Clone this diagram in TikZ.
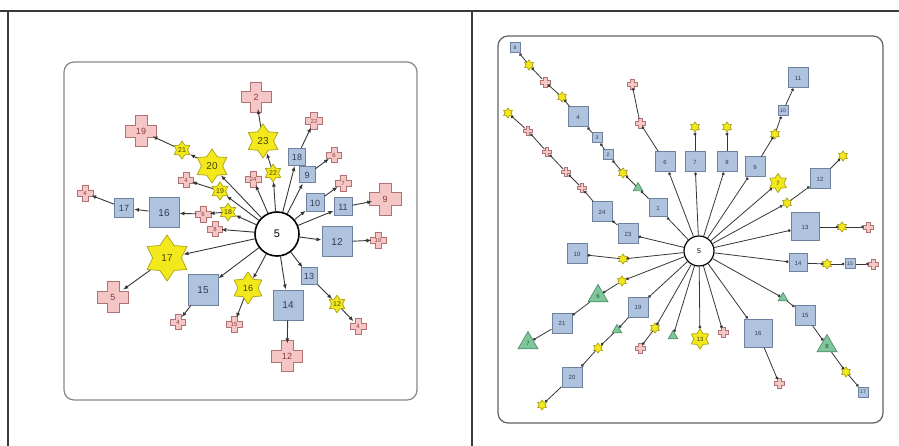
\documentclass[tikz,border=0pt]{standalone}
\usepackage{fontspec}
\setmainfont{Liberation Sans}
\usetikzlibrary{shapes.geometric,arrows.meta}
\definecolor{bluefill}{HTML}{AFC3DF}
\definecolor{bluedraw}{HTML}{6E819F}
\definecolor{bluetext}{HTML}{2E3B55}
\definecolor{pinkfill}{HTML}{F5C6C6}
\definecolor{pinkdraw}{HTML}{B07272}
\definecolor{pinktext}{HTML}{8A3A3A}
\definecolor{yfill}{HTML}{F2E81C}
\definecolor{ydraw}{HTML}{ACA016}
\definecolor{ytext}{HTML}{4A4500}
\definecolor{gfill}{HTML}{7FC79B}
\definecolor{gdraw}{HTML}{4F8F69}
\definecolor{gtext}{HTML}{1F4F33}
\definecolor{edgecol}{HTML}{363636}
\definecolor{framecol}{HTML}{3A3A3A}
\definecolor{panelcol}{HTML}{8A8585}
\tikzset{
  fsz/.style={font=\fontsize{#1}{#1}\selectfont},
  bx/.style={rectangle, draw=bluedraw, fill=bluefill, line width=1pt, minimum size=#1, inner sep=0pt, text=bluetext},
  st/.style={star, star points=6, star point ratio=1.6, draw=ydraw, fill=yfill, line width=0.7pt, minimum size=#1, inner sep=0pt, text=ytext},
  tri/.style={regular polygon, regular polygon sides=3, draw=gdraw, fill=gfill, line width=0.7pt, minimum size=#1, inner sep=0pt, text=gtext},
  plusshape/.style={draw=pinkdraw, fill=pinkfill, line width=0.7pt},
  plusholder/.style={circle, minimum size=0.8*#1, inner sep=0pt, text=pinktext},
  le/.style={draw=edgecol, line width=0.9pt, -{Latex[length=5pt,width=4pt]}},
  re/.style={draw=edgecol, line width=0.8pt, -{Circle[length=2.8pt]}},
  hub/.style={circle, draw=black, fill=white, inner sep=0pt},
}
\newcommand{\plusmark}[5]{%
  \draw[plusshape, shift={#2}, scale=#3/5.2]
    (-1,-2.6) -- (1,-2.6) -- (1,-1) -- (2.6,-1) -- (2.6,1) -- (1,1) -- (1,2.6)
    -- (-1,2.6) -- (-1,1) -- (-2.6,1) -- (-2.6,-1) -- (-1,-1) -- cycle;
  \node[plusholder=#3, fsz=#5] (#1) at #2 {#4};
}
\begin{document}
\begin{tikzpicture}[x=1pt,y=-1pt]
\useasboundingbox (0,0) rectangle (899,446);
% frame
\draw[framecol, line width=2.5pt] (0,11) -- (899,11);
\draw[framecol, line width=2pt] (8,11) -- (8,446);
\draw[framecol, line width=2pt] (472,11) -- (472,446);
% panels
\draw[panelcol, line width=1.2pt, rounded corners=10pt] (64,62) rectangle (417,400);
\draw[framecol!80, line width=1.2pt, rounded corners=10pt] (498,36) rectangle (883,423);

% ---------------- left panel ----------------
\node[hub, line width=1.6pt, minimum size=44, fsz=11] (Lc) at (277,234) {5};
\node[st=34, fsz=10] (L23) at (263,141) {23};
\plusmark{L2}{(256,97)}{30}{2}{9}
\node[st=17, fsz=7] (L22y) at (273,173) {22};
\plusmark{L24}{(253,179)}{16}{24}{6}
\node[bx=17, fsz=9] (L18) at (297,157) {18};
\plusmark{L22p}{(314,121)}{17}{22}{6}
\node[bx=16, fsz=9] (L9) at (307,175) {9};
\plusmark{L6p}{(334,155)}{15}{6}{6}
\node[bx=18, fsz=9] (L10) at (315,203) {10};
\plusmark{L7p}{(343,183)}{16}{7}{6}
\node[bx=18, fsz=9] (L11) at (343,207) {11};
\plusmark{L9p}{(385,199)}{32}{9}{9}
\node[bx=30, fsz=10] (L12) at (337,242) {12};
\plusmark{L10p}{(378,240)}{16}{10}{6}
\node[bx=16, fsz=9] (L13) at (309,276) {13};
\node[st=17, fsz=7] (L12y) at (337,304) {12};
\plusmark{L4a}{(358,326)}{16}{4}{6}
\node[bx=30, fsz=10] (L14) at (288,305) {14};
\plusmark{L12p}{(287,356)}{31}{12}{9}
\node[st=32, fsz=9] (L16y) at (248,288) {16};
\plusmark{L15p}{(234,324)}{16}{15}{6}
\node[bx=30, fsz=10] (L15) at (203,290) {15};
\plusmark{L4b}{(178,322)}{15}{4}{6}
\node[st=46, fsz=10] (L17y) at (167,258) {17};
\plusmark{L5p}{(113,297)}{31}{5}{9}
\node[bx=30, fsz=10] (L16) at (164,213) {16};
\node[bx=19, fsz=9] (L17) at (124,208) {17};
\plusmark{L4c}{(85,193)}{16}{4}{6}
\plusmark{L6b}{(203,214)}{16}{6}{6}
\node[st=17, fsz=7] (L18y) at (228,212) {18};
\plusmark{L8p}{(215,229)}{15}{8}{6}
\node[st=18, fsz=7] (L19y) at (220,191) {19};
\plusmark{L4d}{(186,180)}{15}{4}{6}
\node[st=34, fsz=10] (L20y) at (212,166) {20};
\node[st=18, fsz=7] (L21y) at (182,150) {21};
\plusmark{L19p}{(141,131)}{31}{19}{9}

\foreach \a/\b in {Lc/L22y, L22y/L23, L23/L2, Lc/L24, Lc/L18, L18/L22p, Lc/L9, L9/L6p,
  Lc/L10, L10/L7p, Lc/L11, L11/L9p, Lc/L12, L12/L10p, Lc/L13, L13/L12y, L12y/L4a,
  Lc/L14, L14/L12p, Lc/L16y, L16y/L15p, Lc/L15, L15/L4b, Lc/L17y, L17y/L5p, Lc/L8p,
  Lc/L18y, L18y/L6b, L6b/L16, L16/L17, L17/L4c, Lc/L19y, L19y/L4d, Lc/L20y,
  L20y/L21y, L21y/L19p}
  \draw[le] (\a) -- (\b);

% ---------------- right panel ----------------
\node[hub, line width=1.2pt, minimum size=30, fsz=7] (Rc) at (699,251) {5};
% chain to upper left
\node[bx=18, fsz=6] (R1) at (658,208) {1};
\node[tri=11] (RgA) at (638,188) {};
\node[st=10] (RyA) at (623,173) {};
\node[bx=10, fsz=5] (R2) at (608,155) {2};
\node[bx=10, fsz=5] (R3) at (597,138) {3};
\node[bx=20, fsz=6] (R4) at (578,117) {4};
\node[st=10] (RyB) at (562,97) {};
\plusmark{RpA}{(545,82)}{10}{}{5}
\node[st=10] (RyC) at (529,65) {};
\node[bx=10, fsz=5] (R8s) at (515,48) {8};
% chain via 23, 24
\node[bx=20, fsz=6] (R23) at (628,234) {23};
\node[bx=20, fsz=6] (R24) at (602,212) {24};
\plusmark{RpB}{(582,188)}{9}{}{5}
\plusmark{RpC}{(566,172)}{9}{}{5}
\plusmark{RpD}{(547,152)}{9}{}{5}
\plusmark{RpE}{(528,131)}{9}{}{5}
\node[st=10] (RyD) at (508,113) {};
% 6
\node[bx=20, fsz=6] (R6) at (665,162) {6};
\plusmark{RpF}{(640,123)}{10}{}{5}
\plusmark{RpG}{(632,84)}{10}{}{5}
% 7, 8
\node[bx=20, fsz=6] (R7) at (695,162) {7};
\node[st=10] (RyE) at (695,127) {};
\node[bx=20, fsz=6] (R8) at (727,162) {8};
\node[st=10] (RyF) at (727,127) {};
% 9 chain
\node[bx=20, fsz=6] (R9) at (755,167) {9};
\node[st=10] (RyG) at (775,134) {};
\node[bx=10, fsz=5] (R10s) at (783,111) {10};
\node[bx=20, fsz=6] (R11) at (798,78) {11};
% star 7
\node[st=19, fsz=6] (R7y) at (778,183) {7};
% 12
\node[st=10] (RyH) at (787,203) {};
\node[bx=20, fsz=6] (R12) at (820,179) {12};
\node[st=10] (RyI) at (843,156) {};
% 13
\node[bx=28, fsz=6] (R13) at (805,227) {13};
\node[st=10] (RyJ) at (842,227) {};
\plusmark{RpH}{(868,227)}{10}{}{5}
% 14
\node[bx=18, fsz=6] (R14) at (798,263) {14};
\node[st=10] (RyK) at (827,264) {};
\node[bx=10, fsz=5] (R15s) at (850,264) {15};
\plusmark{RpI}{(873,264)}{10}{}{5}
% 15 chain
\node[tri=11] (RgB) at (783,298) {};
\node[bx=20, fsz=6] (R15) at (805,315) {15};
\node[tri=23, fsz=6] (R8t) at (827,346) {8};
\node[st=10] (RyL) at (846,372) {};
\node[bx=10, fsz=5] (R17) at (863,392) {17};
% 16
\node[bx=28, fsz=6] (R16) at (758,333) {16};
\plusmark{RpJ}{(779,383)}{10}{}{5}
% singles
\plusmark{RpK}{(723,332)}{10}{}{5}
\node[st=20, fsz=6] (R13y) at (700,339) {13};
\node[tri=11] (RgC) at (673,336) {};
\node[st=10] (RyM) at (655,328) {};
\plusmark{RpL}{(640,348)}{10}{}{5}
% 19 chain
\node[bx=20, fsz=6] (R19) at (638,307) {19};
\node[tri=11] (RgD) at (617,330) {};
\node[st=10] (RyN) at (598,348) {};
\node[bx=20, fsz=6] (R20) at (572,377) {20};
\node[st=10] (RyO) at (542,405) {};
% 6 triangle chain
\node[st=10] (RyP) at (622,281) {};
\node[tri=23, fsz=6] (R6t) at (598,296) {6};
\node[bx=20, fsz=6] (R21) at (562,323) {21};
\node[tri=23, fsz=6] (R7t) at (528,343) {7};
% 10
\node[st=10] (RyQ) at (623,259) {};
\node[bx=20, fsz=6] (R10) at (577,254) {10};

\foreach \a/\b in {Rc/R1, R1/RgA, RgA/RyA, RyA/R2, R2/R3, R3/R4, R4/RyB, RyB/RpA, RpA/RyC, RyC/R8s,
  Rc/R23, R23/R24, R24/RpB, RpB/RpC, RpC/RpD, RpD/RpE, RpE/RyD,
  Rc/R6, R6/RpF, RpF/RpG, Rc/R7, R7/RyE, Rc/R8, R8/RyF,
  Rc/R9, R9/RyG, RyG/R10s, R10s/R11, Rc/R7y, Rc/RyH, RyH/R12, R12/RyI,
  Rc/R13, R13/RyJ, RyJ/RpH, Rc/R14, R14/RyK, RyK/R15s, R15s/RpI,
  Rc/RgB, RgB/R15, R15/R8t, R8t/RyL, RyL/R17, Rc/R16, R16/RpJ,
  Rc/RpK, Rc/R13y, Rc/RgC, Rc/RyM, RyM/RpL,
  Rc/R19, R19/RgD, RgD/RyN, RyN/R20, R20/RyO,
  Rc/RyP, RyP/R6t, R6t/R21, R21/R7t, Rc/RyQ, RyQ/R10}
  \draw[re] (\a) -- (\b);
\end{tikzpicture}
\end{document}
